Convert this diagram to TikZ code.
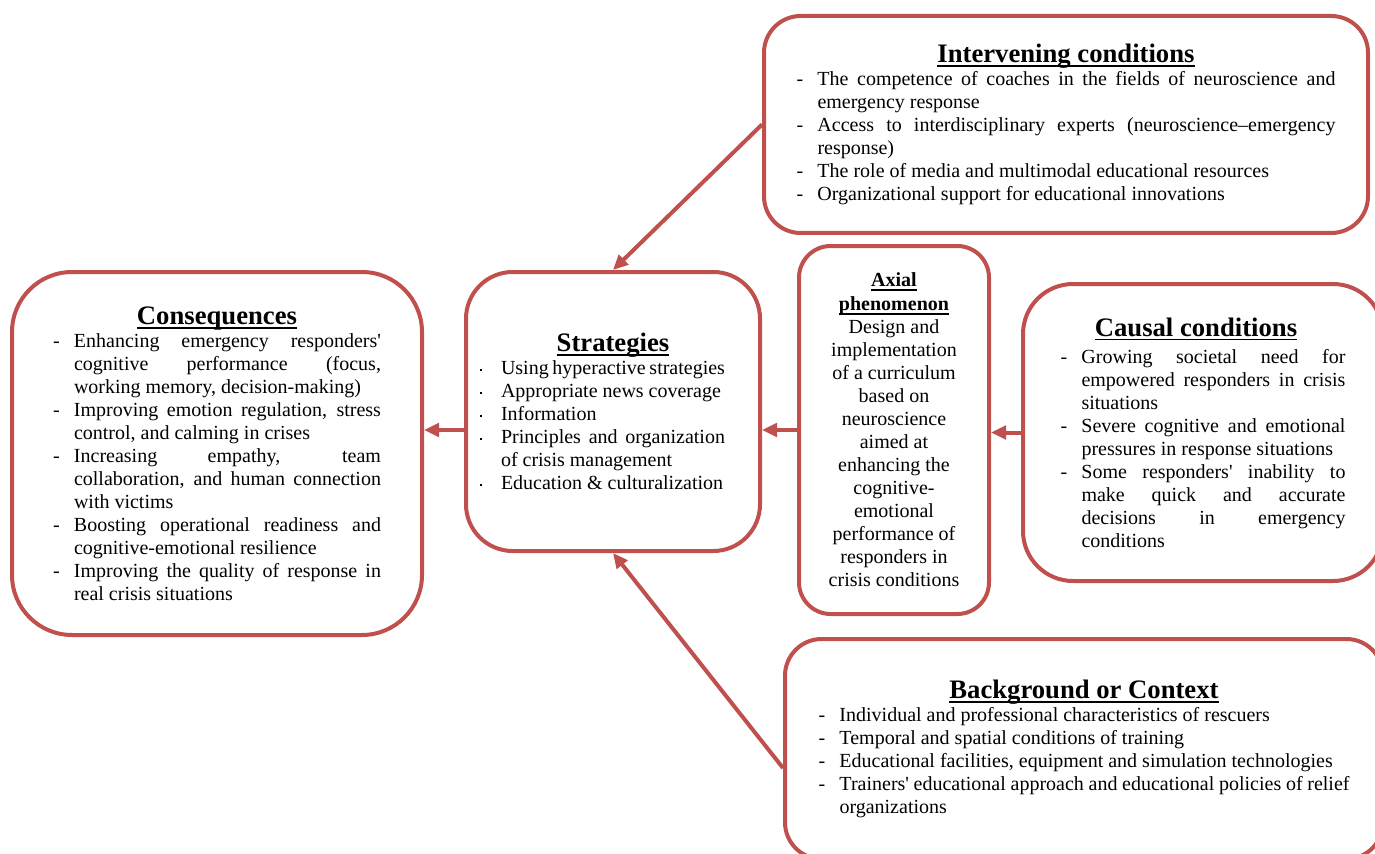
\documentclass[tikz,border=0pt]{standalone}
\usepackage{fontspec}
\setmainfont{Liberation Serif}
\usetikzlibrary{arrows.meta}
\definecolor{boxred}{HTML}{C0504D}
\newlength\itmind
\newsavebox\ulbox
\newcommand\ul[2][1.1pt]{\sbox\ulbox{#2}\rlap{\rule[\dimexpr-1.5pt-#1\relax]{\wd\ulbox}{#1}}\usebox\ulbox}
\newcommand\itm[2][-]{\par\hangindent=\itmind\hangafter=1\noindent\makebox[\itmind][l]{#1}#2}
\newcommand\boxtitle[2][0pt]{{\centering\fontsize{16}{18}\selectfont\bfseries\hspace*{#1}\ul{#2}\par}}
\newcommand\blk[2]{\begin{minipage}{#1}\fontsize{12}{13.8}\selectfont\parindent=0pt\itmind=12.6pt\hyphenpenalty=10000 #2\end{minipage}}
\newcommand\apos{\textquotesingle}
\newcommand\sdot{\rule[2.2pt]{1.1pt}{1.1pt}}
\begin{document}
\begin{tikzpicture}[x=0.6pt,y=-0.6pt,>={Triangle[length=9pt,width=8pt]},
    box/.style={draw=boxred,line width=2.4pt,fill=white,inner sep=0pt,rounded corners=#1},
    link/.style={boxred,line width=2.4pt,->}]
    \useasboundingbox (0,0) rectangle (1375,854);
    \clip (0,0) rectangle (1375,854);

    \node[box=22pt,minimum width=362.4pt,minimum height=130.2pt] (inter) at (1066,124.5) {\blk{323.4pt}{%
        \boxtitle{Intervening conditions}
        \itm{The competence of coaches in the fields of neuroscience and\linebreak emergency response}
        \itm{Access to interdisciplinary experts (neuroscience–emergency\linebreak response)}
        \itm{The role of media and multimodal educational resources}
        \itm{Organizational support for educational innovations}}};
    \node[box=36pt,minimum width=246pt,minimum height=217.8pt] (cons) at (217,453.5) {\blk{196.8pt}{%
        \boxtitle{Consequences}
        \itm{Enhancing emergency responders\apos\linebreak cognitive performance (focus,\linebreak working memory, decision-making)}
        \itm{Improving emotion regulation, stress\linebreak control, and calming in crises}
        \itm{Increasing empathy, team\linebreak collaboration, and human connection\linebreak with victims}
        \itm{Boosting operational readiness and\linebreak cognitive-emotional resilience}
        \itm{Improving the quality of response in\linebreak real crisis situations}}};
    \node[box=28pt,minimum width=176.4pt,minimum height=167.4pt] (strat) at (613,411.5) {\blk{147pt}{%
        \boxtitle[12.6pt]{Strategies}
        \itm[\sdot]{Using hyperactive strategies}
        \itm[\sdot]{Appropriate news coverage}
        \itm[\sdot]{Information}
        \itm[\sdot]{Principles and organization\linebreak of crisis management}
        \itm[\sdot]{Education \& culturalization}}\hspace*{12.6pt}};
    \node[box=19pt,minimum width=114pt,minimum height=220.8pt] (axial) at (894,430) {\blk{84pt}{%
        \centering\textbf{\ul[0.8pt]{Axial}}\\[0.6pt]
        \textbf{\ul[0.8pt]{phenomenon}}\\
        Design and\\ implementation\\ of a curriculum\\ based on\\ neuroscience\\ aimed at\\
        enhancing the\\ cognitive-\\ emotional\\ performance of\\ responders in\\ crisis conditions\par}};
    \node[box=30pt,minimum width=216pt,minimum height=178.2pt] (causal) at (1203,432.5) {\blk{171pt}{%
        \boxtitle[-8.4pt]{Causal conditions}\vspace{2.4pt}
        \itm{Growing societal need for\linebreak empowered responders in crisis\linebreak situations}
        \itm{Severe cognitive and emotional\linebreak pressures in response situations}
        \itm{Some responders\apos{} inability to\linebreak make quick and accurate\linebreak decisions in emergency\linebreak conditions}}};
    \node[box=22pt,minimum width=358.8pt,minimum height=132pt] (back) at (1084,749) {\blk{318.6pt}{%
        \boxtitle{Background or Context}
        \itm{Individual and professional characteristics of rescuers}
        \itm{Temporal and spatial conditions of training}
        \itm{Educational facilities, equipment and simulation technologies}
        \itm{Trainers\apos{} educational approach and educational policies of relief\linebreak organizations}}};

    \draw[link] (inter.west) -- (strat.north);
    \draw[link] ([yshift=-11.4pt]back.west) -- (strat.south);
    \draw[link] (axial.west) -- (axial.west -| strat.east);
    \draw[link] (causal.west) -- (causal.west -| axial.east);
    \draw[link] (strat.west |- axial.west) -- (cons.east |- axial.west);
\end{tikzpicture}
\end{document}
